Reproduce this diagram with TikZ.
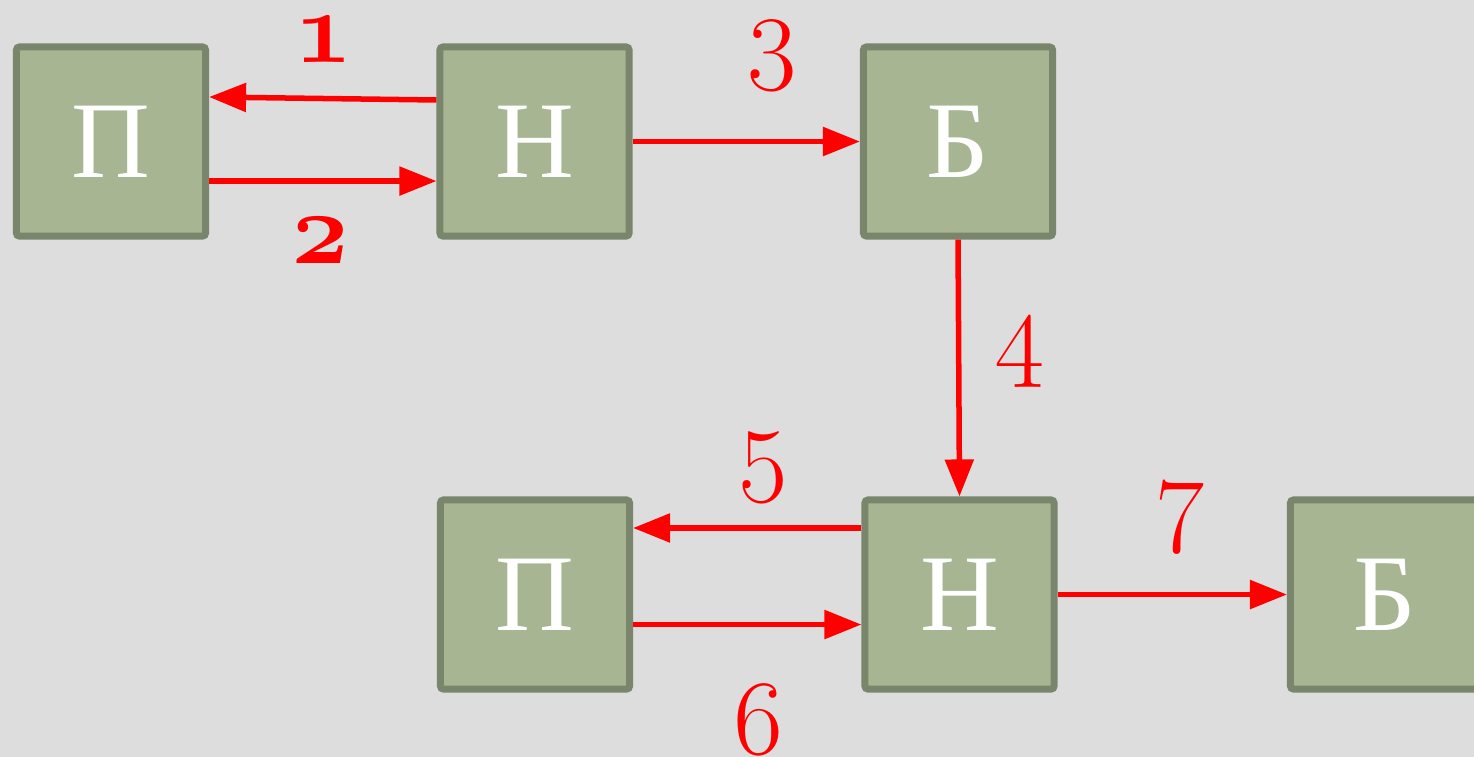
\documentclass[tikz,border=0pt]{standalone}
\usepackage{fontspec}
\setmainfont{Liberation Serif}
\newfontfamily\osf[Numbers=OldStyle]{Latin Modern Roman}
\usetikzlibrary{arrows.meta,calc}
\definecolor{bg}{HTML}{DDDDDD}
\definecolor{boxfill}{HTML}{A7B592}
\definecolor{boxline}{HTML}{7A866C}
\definecolor{arrowred}{HTML}{FF0000}
\newcommand{\osnum}[1]{{\osf #1}}
\newcommand{\osnumb}[1]{{\osf\bfseries\fontsize{29}{29}\selectfont #1}}
\tikzset{
  blk/.style={draw=boxline, fill=boxfill, line width=0.07cm,
    minimum width=1.89cm, minimum height=1.89cm, inner sep=0pt,
    rounded corners=0.03cm, text=white, font=\fontsize{31}{31}\selectfont},
  arr/.style={draw=arrowred, line width=0.055cm,
    -{Triangle[length=0.37cm,width=0.28cm]}},
  num/.style={text=arrowred, inner sep=0pt, font=\fontsize{30.5}{30.5}\selectfont}
}
\begin{document}
\begin{tikzpicture}[x=0.01cm,y=-0.01cm]
\useasboundingbox (0,0) rectangle (1474,756);
\fill[bg] (-20,-20) rectangle (1494,776);
\node[blk] (p1) at (111,141.5) {П};
\node[blk] (n1) at (534.5,141.5) {Н};
\node[blk] (b1) at (958,141.5) {Б};
\node[blk] (p2) at (535,594.5) {П};
\node[blk] (n2) at (959.5,594.5) {Н};
\node[blk] (b2) at (1385,594.5) {Б};
\draw[arr] ([yshift=0.415cm]n1.west) -- ([yshift=0.445cm]p1.east);
\draw[arr] ([yshift=-0.395cm]p1.east) -- ([yshift=-0.395cm]n1.west);
\draw[arr] (n1.east) -- (b1.west);
\draw[arr] (b1.south) -- (n2.north);
\draw[arr] ([yshift=0.665cm]n2.west) -- ([yshift=0.665cm]p2.east);
\draw[arr] ([yshift=-0.3cm]p2.east) -- ([yshift=-0.3cm]n2.west);
\draw[arr] (n2.east) -- (b2.west);
\node[num] (l1) at (324,39) {\osnumb{1}};
\node[num] (l2) at (320,240) {\osnumb{2}};
\node[num] (l3) at (772,56) {\osnum{3}};
\node[num] (l4) at (1020,351) {\osnum{4}};
\node[num] (l5) at (763,468) {\osnum{5}};
\node[num] (l6) at (758,720) {\osnum{6}};
\node[num] (l7) at (1182,517) {\osnum{7}};
\end{tikzpicture}
\end{document}
